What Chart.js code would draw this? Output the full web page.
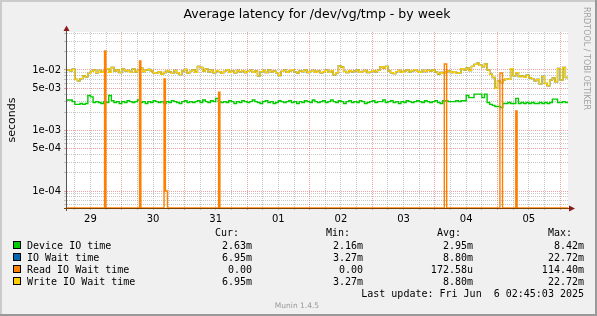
<!DOCTYPE html>
<html>
<head>
<meta charset="utf-8">
<script src="https://cdn.jsdelivr.net/npm/chart.js@4.4.1/dist/chart.umd.min.js"></script>
<style>
  html, body { margin: 0; padding: 0; background: #f0f0f0; }
</style>
</head>
<body>
<canvas id="latency-chart" width="597" height="316"></canvas>
<script>
// hours counted from 29 May 00:00, one sample per hour
const startHour = 3;
const endHour = 195;
const dayLabels = ['29', '30', '31', '01', '02', '03', '04', '05'];

const deviceIOTime = [
  0.0032, 0.0032, 0.0030, 0.0027, 0.0027, 0.0028, 0.0027, 0.0028, 0.0038, 0.0036, 0.0029, 0.0030,
  0.0029, 0.0028, 0.0030, 0.0029, 0.0038, 0.0031, 0.0029, 0.0030, 0.0028, 0.0030, 0.0029, 0.0031,
  0.0030, 0.0029, 0.0030, 0.0032, 0.0029, 0.0030, 0.0028, 0.0030, 0.0029, 0.0031, 0.0030, 0.0029,
  0.0030, 0.0028, 0.0030, 0.0029, 0.0031, 0.0030, 0.0029, 0.0028, 0.0030, 0.0031, 0.0029, 0.0030,
  0.0029, 0.0030, 0.0031, 0.0029, 0.0032, 0.0030, 0.0029, 0.0031, 0.0030, 0.0034, 0.0030, 0.0029,
  0.0030, 0.0029, 0.0031, 0.0030, 0.0028, 0.0030, 0.0029, 0.0031, 0.0030, 0.0029, 0.0030, 0.0032,
  0.0030, 0.0029, 0.0028, 0.0030, 0.0031, 0.0029, 0.0030, 0.0028, 0.0029, 0.0031, 0.0030, 0.0029,
  0.0030, 0.0031, 0.0029, 0.0030, 0.0028, 0.0030, 0.0029, 0.0031, 0.0030, 0.0029, 0.0032, 0.0030,
  0.0029, 0.0030, 0.0031, 0.0029, 0.0030, 0.0032, 0.0030, 0.0029, 0.0031, 0.0030, 0.0028, 0.0030,
  0.0031, 0.0029, 0.0030, 0.0029, 0.0031, 0.0030, 0.0028, 0.0029, 0.0030, 0.0031, 0.0029, 0.0030,
  0.0030, 0.0032, 0.0029, 0.0030, 0.0031, 0.0029, 0.0030, 0.0028, 0.0030, 0.0029, 0.0031, 0.0030,
  0.0029, 0.0030, 0.0031, 0.0030, 0.0029, 0.0031, 0.0030, 0.0029, 0.0030, 0.0031, 0.0029, 0.0028,
  0.0031, 0.0031, 0.0030, 0.0030, 0.0030, 0.0031, 0.0030, 0.0031, 0.0031, 0.0038, 0.0035, 0.0035,
  0.0040, 0.0040, 0.0040, 0.0035, 0.0040, 0.0029, 0.0027, 0.0026, 0.0025, 0.0025, 0.0024, 0.0028,
  0.0028, 0.0029, 0.0028, 0.0028, 0.0034, 0.0028, 0.0029, 0.0028, 0.0029, 0.0028, 0.0029, 0.0028,
  0.0028, 0.0029, 0.0028, 0.0029, 0.0028, 0.0029, 0.0033, 0.0033, 0.0029, 0.0029, 0.0030, 0.0029
];

const writeIOWaitTime = [
  0.0100, 0.0097, 0.0103, 0.0070, 0.0066, 0.0072, 0.0080, 0.0077, 0.0088, 0.0095, 0.0100, 0.0090,
  0.0098, 0.0092, 0.0096, 0.0105, 0.0092, 0.0110, 0.0096, 0.0100, 0.0091, 0.0104, 0.0097, 0.0098,
  0.0092, 0.0104, 0.0093, 0.0099, 0.0108, 0.0094, 0.0100, 0.0102, 0.0096, 0.0090, 0.0088, 0.0094,
  0.0085, 0.0091, 0.0097, 0.0093, 0.0088, 0.0098, 0.0090, 0.0084, 0.0096, 0.0102, 0.0089, 0.0095,
  0.0100, 0.0092, 0.0115, 0.0110, 0.0096, 0.0104, 0.0093, 0.0099, 0.0090, 0.0097, 0.0094, 0.0088,
  0.0095, 0.0101, 0.0092, 0.0096, 0.0090, 0.0098, 0.0093, 0.0097, 0.0091, 0.0095, 0.0099, 0.0092,
  0.0096, 0.0080, 0.0094, 0.0098, 0.0091, 0.0100, 0.0093, 0.0096, 0.0090, 0.0081, 0.0095, 0.0099,
  0.0092, 0.0097, 0.0101, 0.0093, 0.0089, 0.0096, 0.0094, 0.0100, 0.0091, 0.0095, 0.0098, 0.0092,
  0.0096, 0.0090, 0.0094, 0.0099, 0.0092, 0.0097, 0.0083, 0.0090, 0.0117, 0.0112, 0.0095, 0.0091,
  0.0097, 0.0093, 0.0096, 0.0100, 0.0092, 0.0095, 0.0098, 0.0091, 0.0094, 0.0097, 0.0093, 0.0099,
  0.0113, 0.0108, 0.0115, 0.0096, 0.0090, 0.0087, 0.0094, 0.0098, 0.0092, 0.0096, 0.0100, 0.0093,
  0.0097, 0.0101, 0.0095, 0.0092, 0.0098, 0.0094, 0.0099, 0.0096, 0.0100, 0.0093, 0.0086, 0.0091,
  0.0088, 0.0093, 0.0096, 0.0091, 0.0094, 0.0088, 0.0090, 0.0105, 0.0100, 0.0108, 0.0098, 0.0115,
  0.0124, 0.0130, 0.0120, 0.0113, 0.0126, 0.0100, 0.0085, 0.0075, 0.0050, 0.0066, 0.0062, 0.0068,
  0.0072, 0.0070, 0.0105, 0.0080, 0.0090, 0.0078, 0.0080, 0.0076, 0.0082, 0.0074, 0.0072, 0.0066,
  0.0070, 0.0059, 0.0078, 0.0060, 0.0055, 0.0068, 0.0074, 0.0064, 0.0106, 0.0068, 0.0110, 0.0075
];

// IO wait sits exactly under the write line in the picture
const ioWaitTime = writeIOWaitTime;

// read wait: zero apart from short spikes; each value holds until the next step hour
const readStepHours = [3, 17.4, 17.9, 30.8, 31.3, 40.2, 40.7, 41.5, 61.1, 61.6,
                       147.6, 148.5, 168.9, 169.9, 175.0, 175.5, 195];
const readStepValues = [0, 0.0206, 0, 0.0141, 0, 0.0071, 0.0001, 0, 0.0043, 0,
                        0.0126, 0, 0.0089, 0, 0.0021, 0, 0];

const yTickValues = [1e-4, 5e-4, 1e-3, 5e-3, 1e-2];
const yTickLabels = ['1e-04', '5e-04', '1e-03', '5e-03', '1e-02'];

const legendNames = ['Device IO time', 'IO Wait time', 'Read IO Wait time', 'Write IO Wait time'];
const legendColors = ['#00cc00', '#0066b3', '#ff8000', '#ffcc00'];
const curValues = ['2.63m', '6.95m', '0.00', '6.95m'];
const minValues = ['2.16m', '3.27m', '0.00', '3.27m'];
const avgValues = ['2.95m', '8.80m', '172.58u', '8.80m'];
const maxValues = ['8.42m', '22.72m', '114.40m', '22.72m'];
const lastUpdate = 'Last update: Fri Jun  6 02:45:03 2025';

const yMin = 5.24e-5, yMax = 0.04246;

// zero can't sit on a log axis, rrdtool pins it to the bottom edge
const floorZero = v => (v > 0 ? v : yMin);

function toPoints(values) {
  const pts = values.map((v, i) => ({ x: startHour + i, y: floorZero(v) }));
  pts.push({ x: endHour, y: pts[pts.length - 1].y });
  return pts;
}
const readPoints = readStepHours.map((h, i) => ({ x: h, y: floorZero(readStepValues[i]) }));

const yGrid = [];
for (let e = -5; e <= -2; e++) {
  for (let k = 1; k <= 9; k++) {
    const v = k * Math.pow(10, e);
    if (v > yMin && v < yMax) yGrid.push(v);
  }
}
const isLabelled = v => yTickValues.some(t => Math.abs(v / t - 1) < 1e-9);

const MONO = '"DejaVu Sans Mono", monospace';
const SANS = '"DejaVu Sans", sans-serif';

const rrdLook = {
  id: 'rrdLook',
  beforeDraw(chart) {
    const ctx = chart.ctx, a = chart.chartArea;
    ctx.save();
    ctx.fillStyle = '#f0f0f0';
    ctx.fillRect(0, 0, 597, 316);
    ctx.fillStyle = '#cbcbcb';
    ctx.fillRect(0, 0, 597, 2);
    ctx.fillRect(0, 0, 2, 316);
    ctx.fillStyle = '#999999';
    ctx.fillRect(0, 314, 597, 2);
    ctx.fillRect(595, 0, 2, 316);
    ctx.fillStyle = '#ffffff';
    ctx.fillRect(a.left, a.top, a.right - a.left, a.bottom - a.top);
    ctx.restore();
  },
  afterDraw(chart) {
    const ctx = chart.ctx;
    ctx.save();
    // axes and arrows
    ctx.fillStyle = '#555555';
    ctx.fillRect(66, 30, 1, 181);
    ctx.fillStyle = '#804000';
    ctx.fillRect(64, 208, 505, 1);
    ctx.fillStyle = '#8b1a1a';
    ctx.beginPath();
    ctx.moveTo(66.5, 25.5); ctx.lineTo(63.5, 31); ctx.lineTo(69.5, 31); ctx.closePath(); ctx.fill();
    ctx.beginPath();
    ctx.moveTo(575, 208.5); ctx.lineTo(569, 205.5); ctx.lineTo(569, 211.5); ctx.closePath(); ctx.fill();

    // title
    ctx.fillStyle = '#000';
    ctx.font = '12.5px ' + SANS;
    ctx.textAlign = 'center';
    ctx.textBaseline = 'alphabetic';
    ctx.fillText('Average latency for /dev/vg/tmp - by week', 317, 18);

    // unit label
    ctx.save();
    ctx.translate(14.5, 120);
    ctx.rotate(-Math.PI / 2);
    ctx.font = '11px ' + SANS;
    ctx.fillText('seconds', 0, 0);
    ctx.restore();

    // watermark
    ctx.save();
    ctx.translate(583.5, 7);
    ctx.rotate(Math.PI / 2);
    ctx.font = '8px ' + SANS;
    ctx.fillStyle = '#a0a0a0';
    ctx.textAlign = 'left';
    ctx.fillText('RRDTOOL / TOBI OETIKER', 0, 0);
    ctx.restore();

    // legend
    ctx.font = '10px ' + MONO;
    ctx.textAlign = 'left';
    ctx.fillText('Cur:', 215, 236);
    ctx.fillText('Min:', 326, 236);
    ctx.fillText('Avg:', 437, 236);
    ctx.fillText('Max:', 548, 236);
    legendNames.forEach((name, i) => {
      const base = 248.5 + i * 12;
      ctx.fillStyle = legendColors[i];
      ctx.fillRect(13, base - 7.5, 8, 8);
      ctx.strokeStyle = '#000';
      ctx.lineWidth = 1;
      ctx.strokeRect(13.5, base - 7, 7, 7);
      ctx.fillStyle = '#000';
      ctx.textAlign = 'left';
      ctx.fillText(name, 27, base);
      ctx.textAlign = 'right';
      ctx.fillText(curValues[i], 252, base);
      ctx.fillText(minValues[i], 363, base);
      ctx.fillText(avgValues[i], 473, base);
      ctx.fillText(maxValues[i], 584, base);
    });
    ctx.textAlign = 'right';
    ctx.fillText(lastUpdate, 584, 297);

    ctx.font = '7.5px ' + SANS;
    ctx.fillStyle = '#999999';
    ctx.textAlign = 'center';
    ctx.fillText('Munin 1.4.5', 297, 308);
    ctx.restore();
  }
};

function lineSet(label, points, color, order) {
  return {
    label: label,
    data: points,
    borderColor: color,
    backgroundColor: color,
    borderWidth: 1.4,
    pointRadius: 0,
    stepped: true,
    fill: false,
    order: order
  };
}

new Chart(document.getElementById('latency-chart'), {
  type: 'line',
  data: {
    datasets: [
      lineSet('Read IO Wait time', readPoints, '#ff8000', 0),
      lineSet('Write IO Wait time', toPoints(writeIOWaitTime), '#ffcc00', 1),
      lineSet('IO Wait time', toPoints(ioWaitTime), '#0066b3', 2),
      lineSet('Device IO time', toPoints(deviceIOTime), '#00cc00', 3)
    ]
  },
  options: {
    responsive: false,
    animation: false,
    events: [],
    layout: { padding: { left: 0, top: 32, right: 29, bottom: 88 } },
    plugins: { legend: { display: false }, tooltip: { enabled: false }, title: { display: false } },
    scales: {
      x: {
        type: 'linear',
        min: startHour,
        max: endHour,
        afterFit: s => { s.height = 20; },
        afterBuildTicks: s => {
          const t = [];
          for (let h = 6; h <= 192; h += 6) t.push({ value: h });
          s.ticks = t;
        },
        ticks: {
          autoSkip: false, maxRotation: 0, minRotation: 0, padding: 3,
          color: '#000', font: { family: SANS, size: 10 },
          callback: v => (v % 24 === 12 ? dayLabels[(v - 12) / 24] : '')
        },
        grid: {
          tickLength: 2,
          color: c => (c.tick && c.tick.value % 24 === 0 ? 'rgba(222,48,48,0.45)' : 'rgba(143,143,143,0.5)')
        },
        border: { display: false, dash: [1, 1] }
      },
      y: {
        type: 'logarithmic',
        min: yMin,
        max: yMax,
        afterFit: s => { s.width = 67; },
        afterBuildTicks: s => { s.ticks = yGrid.map(v => ({ value: v })); },
        ticks: {
          autoSkip: false, padding: 3,
          color: '#000', font: { family: SANS, size: 10 },
          callback: v => {
            const i = yTickValues.findIndex(t => Math.abs(v / t - 1) < 1e-9);
            return i >= 0 ? yTickLabels[i] : '';
          }
        },
        grid: {
          tickLength: 3,
          color: c => (c.tick && isLabelled(c.tick.value) ? 'rgba(222,48,48,0.45)' : 'rgba(143,143,143,0.5)')
        },
        border: { display: false, dash: [1, 1] }
      }
    }
  },
  plugins: [rrdLook]
});
</script>
</body>
</html>
